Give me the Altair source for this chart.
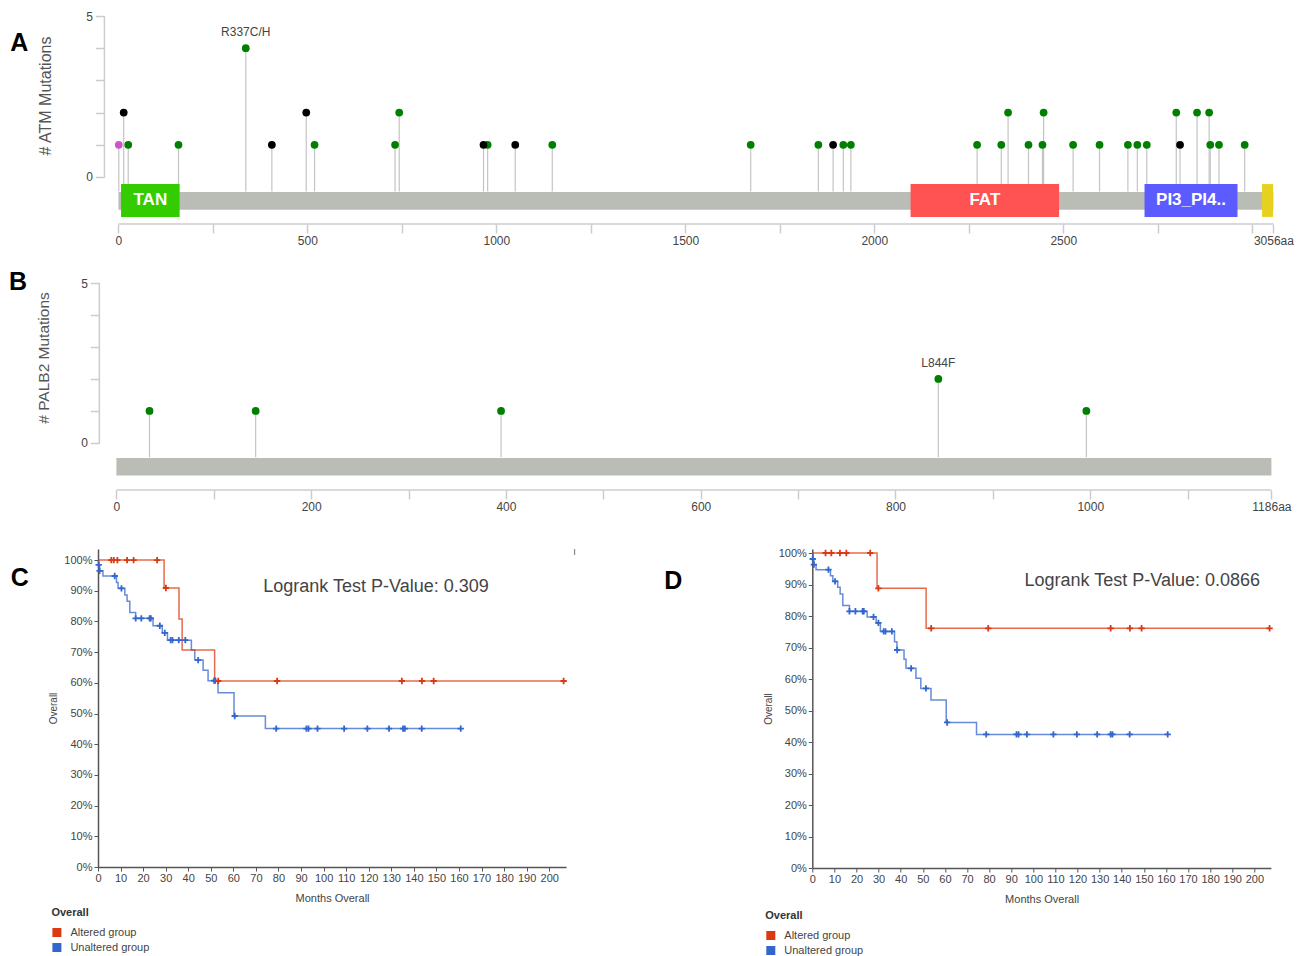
import altair as alt
import pandas as pd

# ---------------- Panel A: ATM mutations ----------------
atm_pos = [1, 14, 26, 159, 337, 406, 497, 519, 732, 743, 966, 977, 1050, 1148,
           1673, 1852, 1891, 1918, 1938, 2272, 2336, 2354, 2408, 2445, 2448, 2526,
           2596, 2671, 2696, 2721, 2799, 2809, 2854, 2886, 2889, 2912, 2980]
atm_count = [1, 2, 1, 1, 4, 1, 2, 1, 1, 2, 1, 1, 1, 1,
             1, 1, 1, 1, 1, 1, 1, 2, 1, 1, 2, 1,
             1, 1, 1, 1, 2, 1, 2, 2, 1, 1, 1]
atm_type = ["Other", "Truncating", "Missense", "Missense", "Missense", "Truncating", "Truncating",
            "Missense", "Missense", "Missense", "Truncating", "Missense", "Truncating", "Missense",
            "Missense", "Missense", "Truncating", "Missense", "Missense", "Missense", "Missense",
            "Missense", "Missense", "Missense", "Missense", "Missense",
            "Missense", "Missense", "Missense", "Missense", "Missense", "Truncating", "Missense",
            "Missense", "Missense", "Missense", "Missense"]
atm_length = 3056
atm_dom_name = ["TAN", "FAT", "PI3_PI4..", ""]
atm_dom_start = [7, 2096, 2715, 3026]
atm_dom_end = [162, 2489, 2961, 3055]
atm_dom_color = ["#33cc00", "#ff5353", "#5b5bff", "#e6d21e"]
atm_xticks = [0, 250, 500, 750, 1000, 1250, 1500, 1750, 2000, 2250, 2500, 2750, 3000, 3056]
atm_xlabels = [0, 500, 1000, 1500, 2000, 2500, 3056]
atm_annot = {"pos": [337], "count": [4], "label": ["R337C/H"]}

# ---------------- Panel B: PALB2 mutations ----------------
palb2_pos = [34, 143, 395, 844, 996]
palb2_count = [1, 1, 1, 2, 1]
palb2_type = ["Missense", "Missense", "Missense", "Missense", "Missense"]
palb2_length = 1186
palb2_xticks = [0, 100, 200, 300, 400, 500, 600, 700, 800, 900, 1000, 1100, 1186]
palb2_xlabels = [0, 200, 400, 600, 800, 1000, 1186]
palb2_annot = {"pos": [844], "count": [2], "label": ["L844F"]}

mut_types = ["Missense", "Other", "Truncating"]
mut_colors = ["#008000", "#cc55cc", "#000000"]

# ---------------- Panel C: KM curves ----------------
c_alt_t = [0, 29.3, 35.9, 37.3, 51.7, 206.4]
c_alt_s = [100, 90.9, 80.8, 70.7, 60.6, 60.6]
c_alt_ct = [5.9, 7.0, 8.6, 12.9, 15.8, 26.2, 30.1, 53.3, 79.4, 134.7, 143.6, 148.8, 206.4]
c_alt_cs = [100, 100, 100, 100, 100, 100, 90.9, 60.6, 60.6, 60.6, 60.6, 60.6, 60.6]
c_un_t = [0, 0.3, 0.7, 2.2, 8.2, 8.9, 11.9, 12.9, 14.1, 16.7, 24.4, 28.5, 30.8, 41.4,
          42.9, 46.6, 48.8, 53.2, 60.3, 74.2, 160.8]
c_un_s = [100, 98.4, 96.5, 94.8, 92.7, 90.8, 88.6, 86.6, 82.9, 81.0, 78.6, 76.3, 73.9, 70.7,
          67.4, 64.1, 60.7, 56.8, 49.2, 45.1, 45.1]
c_un_ct = [0.3, 0.7, 7.4, 10.4, 16.7, 19.2, 22.9, 23.4, 27.4, 29.6, 32.2, 33.0, 35.8, 38.7,
           44.4, 51.5, 52.0, 60.6, 79.0, 92.4, 93.3, 97.3, 109.1, 119.4, 129.0, 135.2, 136.0,
           143.5, 160.8]
c_un_cs = [98.4, 96.5, 94.8, 90.8, 81.0, 81.0, 81.0, 81.0, 78.6, 76.3, 73.9, 73.9, 73.9, 73.9,
           67.4, 60.7, 60.7, 49.2, 45.1, 45.1, 45.1, 45.1, 45.1, 45.1, 45.1, 45.1, 45.1,
           45.1, 45.1]

# ---------------- Panel D: KM curves ----------------
d_alt_t = [0, 29.3, 51.5, 206.9]
d_alt_s = [100, 88.8, 76.1, 76.1]
d_alt_ct = [6.0, 8.6, 12.5, 15.4, 26.2, 29.9, 53.8, 79.6, 135.0, 143.7, 149.0, 206.9]
d_alt_cs = [100, 100, 100, 100, 100, 88.8, 76.1, 76.1, 76.1, 76.1, 76.1, 76.1]
d_un_t = [0, 0.2, 0.7, 1.7, 8.2, 9.3, 11.5, 12.6, 13.8, 16.8, 24.8, 28.9, 30.8, 37.2, 38.3,
          41.5, 42.4, 46.9, 49.1, 53.7, 60.6, 74.3, 160.8]
d_un_s = [100, 98.1, 96.3, 94.7, 92.8, 91.0, 89.1, 87.0, 83.3, 81.5, 79.7, 77.8, 75.1, 71.8, 69.2,
          66.3, 63.4, 60.2, 57.0, 53.3, 46.2, 42.4, 42.4]
d_un_ct = [0.2, 0.7, 7.3, 10.3, 16.8, 19.5, 22.8, 23.3, 27.7, 29.9, 32.3, 33.1, 36.0, 38.4,
           44.7, 51.4, 61.0, 78.7, 92.4, 93.3, 97.1, 109.1, 119.7, 128.9, 135.0, 135.8,
           143.6, 160.8]
d_un_cs = [98.1, 96.3, 94.7, 91.0, 81.5, 81.5, 81.5, 81.5, 79.7, 77.8, 75.1, 75.1, 75.1, 69.2,
           63.4, 57.0, 46.2, 42.4, 42.4, 42.4, 42.4, 42.4, 42.4, 42.4, 42.4, 42.4,
           42.4, 42.4]

month_ticks = [0, 10, 20, 30, 40, 50, 60, 70, 80, 90, 100, 110, 120, 130, 140, 150, 160,
               170, 180, 190, 200]
pct_ticks = [0, 10, 20, 30, 40, 50, 60, 70, 80, 90, 100]
groups = ["Altered group", "Unaltered group"]
group_colors = ["#dc3912", "#3366cc"]

ONE = pd.DataFrame({"k": [0]})


def lollipop_panel(pos, count, types, length, dom_name, dom_start, dom_end, dom_color,
                   xticks, xlabels, xmin, width, height, ylo, yoff, yline_aa,
                   ytitle, ytitle_xy, ytitle_size, letter, letter_xy, annot):
    mut = pd.DataFrame({"pos": pos, "count": count, "type": types})
    mut["rank"] = mut["type"].map({"Missense": 0, "Other": 1, "Truncating": 2})
    mut = mut.sort_values("rank", kind="stable")
    xs = alt.Scale(domain=[xmin, length], nice=False, zero=False)
    ys = alt.Scale(domain=[ylo, 5], nice=False, zero=False)
    cond = " || ".join(f"datum.value == {v}" for v in xlabels)
    xaxis = alt.Axis(values=xticks,
                     labelExpr=f"({cond}) ? (datum.value == {length} ? '{length}aa' : '' + datum.value) : ''",
                     domain=False, grid=False, tickSize=9, tickColor="#cccccc", tickWidth=1.5,
                     labelPadding=2, labelFontSize=12, labelColor="#444444", labelOverlap=False,
                     labelFlush=False, title=None)
    yaxis = alt.Axis(values=[0, 1, 2, 3, 4, 5],
                     labelExpr="(datum.value == 0 || datum.value == 5) ? datum.label : ''",
                     domain=False, grid=False, tickSize=9, tickColor="#cccccc", tickWidth=1.5,
                     labelPadding=3, labelFontSize=12, labelColor="#444444", offset=yoff,
                     title=None)
    stems = alt.Chart(mut).mark_rule(color="#c4c4c4", strokeWidth=1.2).encode(
        x=alt.X("pos:Q", scale=xs, axis=xaxis),
        y=alt.Y("count:Q", scale=ys, axis=yaxis),
        y2=alt.datum(-0.45),
    )
    bb_df = pd.DataFrame({"start": [0], "end": [length]})
    backbone = alt.Chart(bb_df).mark_rect(color="#babdb6").encode(
        x="start:Q", x2="end:Q", y=alt.datum(-0.47), y2=alt.datum(-1.02))
    xline = alt.Chart(bb_df).mark_rule(color="#cccccc", strokeWidth=1.5).encode(
        x="start:Q", x2="end:Q", y=alt.value(height))
    yl_df = pd.DataFrame({"a": [yline_aa], "lo": [0], "hi": [5]})
    yline = alt.Chart(yl_df).mark_rule(color="#cccccc", strokeWidth=1.5).encode(
        x="a:Q", y="lo:Q", y2="hi:Q")
    layers = [stems, backbone, xline, yline]
    if dom_name:
        dom = pd.DataFrame({"name": dom_name, "start": dom_start, "end": dom_end,
                            "color": dom_color})
        boxes = alt.Chart(dom).mark_rect().encode(
            x="start:Q", x2="end:Q", y=alt.datum(-0.22), y2=alt.datum(-1.24),
            color=alt.Color("color:N", scale=None))
        box_text = alt.Chart(dom).mark_text(
            color="white", fontSize=17, fontWeight="bold",
            font="Liberation Sans Narrow, Liberation Sans").transform_calculate(
            mid="(datum.start + datum.end) / 2").encode(
            x="mid:Q", y=alt.datum(-0.73), text="name:N")
        layers += [boxes, box_text]
    dots = alt.Chart(mut).mark_circle(size=60, opacity=1).encode(
        x="pos:Q", y="count:Q",
        fill=alt.Fill("type:N", scale=alt.Scale(domain=mut_types, range=mut_colors),
                      legend=None))
    ann = alt.Chart(pd.DataFrame(annot)).mark_text(dy=-16, fontSize=12, color="#444444").encode(
        x="pos:Q", y="count:Q", text="label:N")
    yt = alt.Chart(ONE).mark_text(angle=270, fontSize=ytitle_size, color="#555555").encode(
        x=alt.value(ytitle_xy[0]), y=alt.value(ytitle_xy[1]), text=alt.value(ytitle))
    let = alt.Chart(ONE).mark_text(fontSize=25, fontWeight="bold", color="black").encode(
        x=alt.value(letter_xy[0]), y=alt.value(letter_xy[1]), text=alt.value(letter))
    layers += [dots, ann, yt, let]
    return alt.layer(*layers).properties(width=width, height=height)


def km_panel(at, as_, act, acs, ut, us, uct, ucs, width, height, ytop,
             pval, pval_xy, letter, letter_xy, leg_xy, extra=None):
    steps = pd.DataFrame({
        "group": ["Unaltered group"] * len(ut) + ["Altered group"] * len(at),
        "t": ut + at, "s": us + as_})
    cens = pd.DataFrame({
        "group": ["Unaltered group"] * len(uct) + ["Altered group"] * len(act),
        "t": uct + act, "s": ucs + acs})
    xs = alt.Scale(domain=[0, 207.5], nice=False, zero=False)
    ys = alt.Scale(domain=[0, ytop], nice=False, zero=False)
    gs = alt.Scale(domain=groups, range=group_colors)
    xaxis = alt.Axis(values=month_ticks, tickCount=21, title="Months Overall", grid=False,
                     domainColor="#555555", domainWidth=1.5, tickColor="#555555", tickSize=4,
                     labelPadding=1, labelFontSize=11, labelColor="#444444",
                     labelOverlap=False, labelFlush=False,
                     titleFontSize=11, titleColor="#444444", titleFontWeight="normal",
                     titlePadding=9)
    yaxis = alt.Axis(values=pct_ticks, tickCount=11, labelExpr="datum.value + '%'",
                     title="Overall",
                     grid=False, domainColor="#555555", domainWidth=1.5, tickColor="#555555",
                     tickSize=4, labelPadding=2, labelFontSize=11, labelColor="#444444",
                     labelOverlap=False, titleFontSize=10, titleColor="#444444",
                     titleFontWeight="normal", titlePadding=5)
    X = alt.X("t:Q", scale=xs, axis=xaxis)
    Y = alt.Y("s:Q", scale=ys, axis=yaxis)
    legend = alt.Legend(
        title="Overall", orient="none", legendX=leg_xy[0], legendY=leg_xy[1],
        symbolType="square", symbolSize=81, symbolStrokeWidth=0, symbolOpacity=1,
        padding=0, titleFontSize=11, titleFontWeight="bold", titleColor="#333333",
        titlePadding=9, labelFontSize=11, labelColor="#444444", labelOffset=8,
        rowPadding=3)
    C = alt.Color("group:N", scale=gs, legend=legend)
    leg = alt.Chart(cens).mark_square(size=1, opacity=0).encode(x=X, y=Y, color=C)
    line = alt.Chart(steps).mark_line(interpolate="step-after", strokeWidth=1.5,
                                      opacity=0.75).encode(x=X, y=Y, color=C)
    marks = alt.Chart(cens).mark_point(shape="M-1,0H1M0,-1V1", size=40, filled=False,
                                       strokeWidth=1.8, opacity=1).encode(x=X, y=Y, color=C)
    pv = alt.Chart(ONE).mark_text(fontSize=18, color="#444444").encode(
        x=alt.value(pval_xy[0]), y=alt.value(pval_xy[1]), text=alt.value(pval))
    let = alt.Chart(ONE).mark_text(fontSize=25, fontWeight="bold", color="black").encode(
        x=alt.value(letter_xy[0]), y=alt.value(letter_xy[1]), text=alt.value(letter))
    layers = [leg, line, marks, pv, let]
    if extra:
        layers.append(alt.Chart(ONE).mark_text(fontSize=9, color="#666666").encode(
            x=alt.value(extra[0]), y=alt.value(extra[1]), text=alt.value(extra[2])))
    return alt.layer(*layers).properties(width=width, height=height)


panel_a = lollipop_panel(atm_pos, atm_count, atm_type, atm_length, atm_dom_name,
                         atm_dom_start, atm_dom_end, atm_dom_color, atm_xticks, atm_xlabels,
                         -54.0, 1175.4, 208, -1.46, -6.4, -37,
                         "# ATM Mutations", (-51.6, 80), 16, "A", (-78.6, 27), atm_annot)
panel_b = lollipop_panel(palb2_pos, palb2_count, palb2_type, palb2_length, [], [], [], [],
                         palb2_xticks, palb2_xlabels, -18.9, 1173.4, 207, -1.47, -1.4, -17.5,
                         "# PALB2 Mutations", (-53.6, 75), 15.5, "B", (-80, -1.5), palb2_annot)
panel_c = km_panel(c_alt_t, c_alt_s, c_alt_ct, c_alt_cs, c_un_t, c_un_s, c_un_ct, c_un_cs,
                   468.1, 318, 103.6, "Logrank Test P-Value: 0.309", (278, 38),
                   "C", (-78.3, 29), (-46.6, 358), extra=(476.4, 3, "I"))
panel_d = km_panel(d_alt_t, d_alt_s, d_alt_ct, d_alt_cs, d_un_t, d_un_s, d_un_ct, d_un_cs,
                   458.6, 319, 101.27, "Logrank Test P-Value: 0.0866", (330, 32),
                   "D", (-139, 32), (-47, 361))

row_cd = alt.hconcat(panel_c, panel_d, spacing=245.3, bounds="flush").resolve_scale(
    color="independent", fill="independent").resolve_legend(
    color="independent", fill="independent")
chart = alt.vconcat(panel_a, panel_b, row_cd, spacing=59, bounds="flush").resolve_scale(
    color="independent", fill="independent").resolve_legend(
    color="independent", fill="independent").properties(
    padding={"left": 8, "top": 10, "right": 0, "bottom": 0}
).configure(font="Liberation Sans").configure_axis(
    labelOverlap=False
).configure_view(stroke=None)

chart.save("out.html", embed_options={"renderer": "svg", "actions": False})
